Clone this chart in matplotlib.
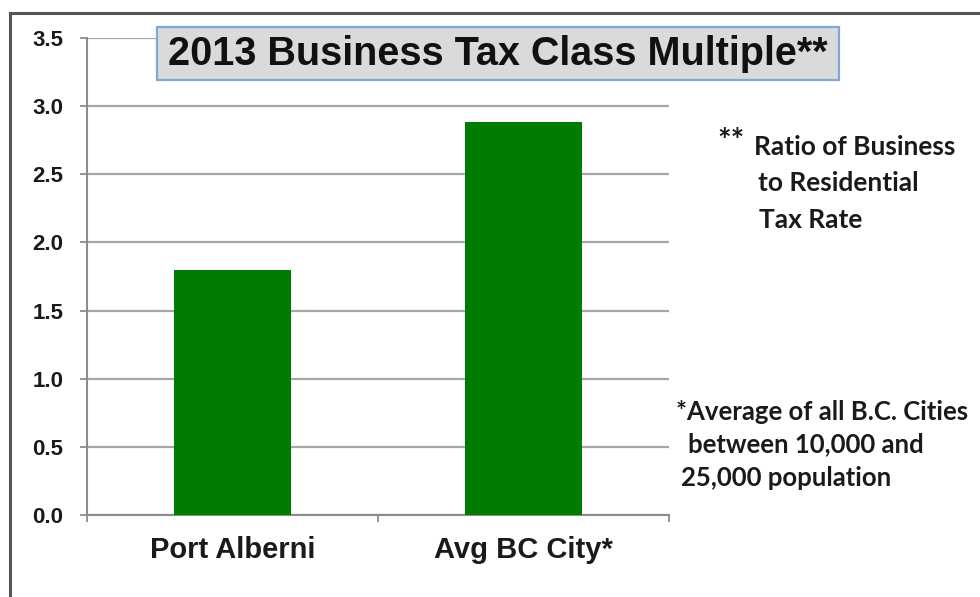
import matplotlib.pyplot as plt
from matplotlib.patches import Rectangle
from matplotlib.lines import Line2D

cities = ['Port Alberni', 'Avg BC City*']
multiples = [1.80, 2.88]
yticks = [0.0, 0.5, 1.0, 1.5, 2.0, 2.5, 3.0, 3.5]

W, H = 980, 597
fig = plt.figure(figsize=(W / 100, H / 100), dpi=100)
fig.patch.set_facecolor('white')

def fx(px): return px / W
def fy(py): return 1 - py / H

ax = fig.add_axes([fx(87), fy(515), fx(669) - fx(87), fy(38) - fy(515)])
ax.bar(range(len(cities)), multiples, width=0.40, color='#007d00', zorder=3)

ax.set_xlim(-0.5, len(cities) - 0.5)
ax.set_ylim(0, 3.5)
ax.set_yticks(yticks)
ax.set_yticklabels([f'{v:.1f}' for v in yticks])
ax.set_xticks(range(len(cities)))
ax.set_xticklabels(cities)
ax.set_xticks([i - 0.5 for i in range(len(cities) + 1)], minor=True)

for lab in ax.get_yticklabels():
    lab.set_fontfamily('Liberation Sans')
    lab.set_fontweight('bold')
    lab.set_fontsize(16)
    lab.set_color('#1a1a1a')
for lab in ax.get_xticklabels():
    lab.set_fontfamily('Liberation Sans')
    lab.set_fontweight('bold')
    lab.set_fontsize(21)
    lab.set_color('#1a1a1a')

ax.tick_params(axis='y', length=5, width=1.3, color='#8c8c8c', pad=12)
ax.tick_params(axis='x', which='major', length=0, pad=15)
ax.tick_params(axis='x', which='minor', length=5, width=1.3, color='#8c8c8c')

ax.yaxis.grid(True, color='#a6a6a6', linewidth=1.6, zorder=0)
ax.set_axisbelow(True)
for side in ['top', 'right']:
    ax.spines[side].set_visible(False)
for side in ['left', 'bottom']:
    ax.spines[side].set_color('#8c8c8c')
    ax.spines[side].set_linewidth(1.5)

# outer frame (top and left edges only fall inside the image)
fig.add_artist(Line2D([fx(10), fx(10)], [fy(13), 0], color='#555555', lw=2.2))
fig.add_artist(Line2D([fx(10), 1], [fy(13), fy(13)], color='#555555', lw=2.2))

# title box
fig.add_artist(Rectangle((fx(157), fy(80)), fx(839) - fx(157), fy(27) - fy(80),
                         facecolor='#dadada', edgecolor='#7fa7d9', lw=1.6,
                         transform=fig.transFigure, zorder=5))
fig.text(fx(498), fy(54), '2013 Business Tax Class Multiple**',
         ha='center', va='center', fontsize=28.5, fontweight='bold',
         family='Liberation Sans', color='#111111', zorder=6)

note_kw = dict(fontsize=19, fontweight='bold', family='Lato', color='#1a1a1a',
               va='center', ha='left')
fig.text(fx(717), fy(143), '**', **{**note_kw, 'fontsize': 23})
fig.text(fx(754), fy(147), 'Ratio of Business', **note_kw)
fig.text(fx(758), fy(183), 'to Residential', **note_kw)
fig.text(fx(759), fy(220), 'Tax Rate', **note_kw)

note_kw['fontsize'] = 18.5
fig.text(fx(676), fy(412), '*Average of all B.C. Cities', **note_kw)
fig.text(fx(688), fy(444), 'between 10,000 and', **note_kw)
fig.text(fx(681), fy(478), '25,000 population', **note_kw)

fig.savefig('out.png', dpi=100, facecolor='white')
